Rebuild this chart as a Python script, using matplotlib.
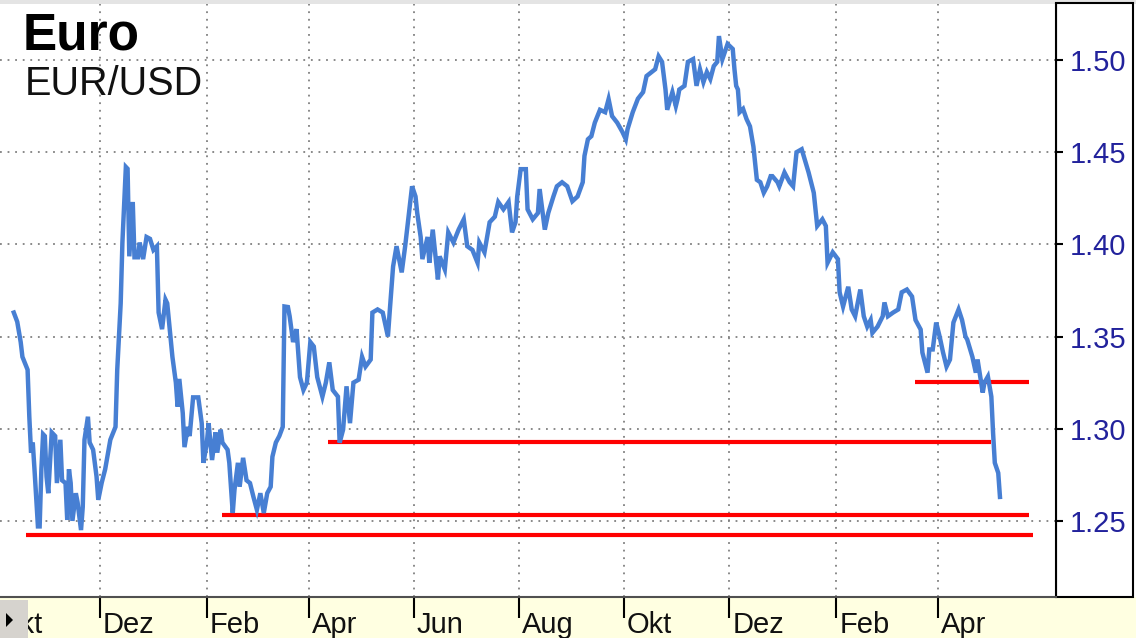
"""
EUR/USD chart with support lines (Oct 2008 - May 2010).
"""
import pandas as pd
import matplotlib
matplotlib.use('Agg')
import matplotlib.pyplot as plt
from matplotlib.patches import Rectangle, Polygon
from matplotlib.transforms import blended_transform_factory, ScaledTranslation

plt.rcParams['font.family'] = ['Liberation Sans', 'DejaVu Sans']

# Day offsets from 2008-10-01 and daily EUR/USD closes
START = pd.Timestamp('2008-10-01')
days = [
    11, 13, 15, 16, 19, 20, 21, 22, 23, 25, 26, 27, 28, 29, 30, 31, 33, 35, 36, 38,
    39, 41, 42, 43, 44, 45, 47, 48, 50, 51, 52, 54, 55, 57, 59, 60, 62, 64, 67, 70,
    71, 73, 74, 76, 77, 78, 80, 81, 83, 84, 86, 88, 90, 92, 94, 95, 97, 99, 100, 103,
    105, 106, 107, 109, 110, 112, 113, 115, 118, 120, 121, 123, 124, 126, 128, 129, 131, 132, 135, 136,
    138, 139, 141, 142, 144, 146, 148, 150, 152, 154, 156, 158, 160, 161, 163, 165, 167, 168, 170,
    171, 173, 175, 177, 179, 181, 183, 185, 187, 190, 192, 194, 196, 199, 200, 202, 204, 206, 208, 211,
    213, 215, 218, 219, 222, 225, 228, 229, 231, 233, 236, 238, 240, 242, 244, 245, 247, 248, 251, 252,
    254, 257, 258, 261, 263, 266, 269, 272, 274, 277, 280, 281, 284, 287, 290, 292, 295, 298, 300, 302,
    303, 305, 308, 309, 312, 315, 316, 319, 321, 324, 326, 329, 332, 335, 338, 341, 342, 344, 346, 348,
    351, 354, 356, 358, 361, 364, 366, 367, 370, 373,
    376, 378, 381, 383, 385, 387, 389, 390, 393, 395, 396, 397, 400, 402, 405, 407, 409, 411, 413, 415,
    417, 419, 420, 422, 425, 428, 429, 430, 431, 432, 434, 436, 438, 440, 442, 444, 446, 448, 450, 451,
    454, 455, 458, 461, 463, 465, 468,
    472, 475, 477, 480, 482, 483, 486, 489, 490, 492, 495, 497, 499, 502, 504, 506, 508, 509, 512, 515,
    516, 518, 521, 524, 526, 529, 532, 534, 537, 538, 541, 542, 544, 546, 548, 550, 552, 554, 556, 559,
    561, 563, 564, 567, 569, 570, 573, 574, 576, 578, 579, 580, 582, 583,
]
rate = [
    1.363, 1.358, 1.347, 1.339, 1.332, 1.3065, 1.287, 1.2925, 1.278, 1.247,
    1.247, 1.278, 1.297, 1.296, 1.274, 1.265, 1.298, 1.296, 1.2705, 1.294,
    1.272, 1.2705, 1.2505, 1.278, 1.2705, 1.250, 1.265, 1.260, 1.245, 1.2576,
    1.294, 1.3065, 1.2925, 1.2886, 1.274, 1.2614, 1.2707, 1.278, 1.294, 1.301,
    1.332, 1.368, 1.401, 1.442, 1.441, 1.3935, 1.423, 1.393, 1.393, 1.401,
    1.392, 1.404, 1.403, 1.397, 1.399, 1.363, 1.354, 1.370, 1.368, 1.339,
    1.325, 1.312, 1.327, 1.3085, 1.290, 1.301, 1.296, 1.317, 1.317, 1.303,
    1.2815, 1.2925, 1.303, 1.283, 1.298, 1.287, 1.2995, 1.2925, 1.2886, 1.2815,
    1.2543, 1.2668, 1.2815, 1.2685, 1.2842, 1.272, 1.2705, 1.263, 1.256, 1.265,
    1.2543, 1.265, 1.2685, 1.2848, 1.2925, 1.296, 1.301, 1.3663, 1.366,
    1.361, 1.347, 1.354, 1.328, 1.321, 1.325, 1.347, 1.3446, 1.328, 1.3174,
    1.325, 1.336, 1.321, 1.3174, 1.2924, 1.2995, 1.323, 1.303, 1.325, 1.3266,
    1.339, 1.3337, 1.3375, 1.363, 1.3647, 1.363, 1.350, 1.363, 1.388, 1.399,
    1.3848, 1.399, 1.415, 1.4315, 1.426, 1.417, 1.404, 1.392, 1.404, 1.390,
    1.408, 1.381, 1.3935, 1.3864, 1.4065, 1.401, 1.408, 1.4136, 1.399, 1.397,
    1.390, 1.401, 1.3957, 1.412, 1.415, 1.423, 1.419, 1.423, 1.4065, 1.412,
    1.426, 1.4408, 1.4408, 1.419, 1.4136, 1.417, 1.430, 1.408, 1.417, 1.426,
    1.4315, 1.4337, 1.4315, 1.4234, 1.426, 1.4337, 1.448, 1.457, 1.4587, 1.466,
    1.473, 1.4717, 1.4788, 1.4696, 1.466, 1.461, 1.457, 1.4625, 1.4717, 1.479,
    1.4826, 1.4913, 1.4935, 1.495, 1.502, 1.499, 1.484, 1.473, 1.4826, 1.475,
    1.4788, 1.484, 1.486, 1.499, 1.5005, 1.486, 1.495, 1.488, 1.4935, 1.4897,
    1.4967, 1.499, 1.513, 1.5005, 1.5087, 1.506, 1.495, 1.486, 1.484, 1.4717,
    1.4735, 1.468, 1.464, 1.453, 1.435, 1.4337, 1.428, 1.4315, 1.437, 1.437,
    1.4337, 1.4315, 1.439, 1.4337, 1.4315, 1.450, 1.4516,
    1.439, 1.428, 1.410, 1.4136, 1.410, 1.390, 1.3957, 1.392, 1.374, 1.3663,
    1.377, 1.3647, 1.361, 1.3755, 1.361, 1.3554, 1.359, 1.352, 1.3554, 1.361,
    1.3685, 1.361, 1.363, 1.3647, 1.374, 1.3755, 1.3717, 1.359, 1.3538, 1.3413,
    1.3304, 1.343, 1.343, 1.3576, 1.350, 1.3413, 1.3337, 1.3375, 1.3576, 1.3647,
    1.359, 1.350, 1.3484, 1.339, 1.3304, 1.3375, 1.3196, 1.325, 1.3283, 1.3174,
    1.2978, 1.2815, 1.276, 1.263,
]

# Red support lines: level, first day, last day
support_level = [1.2424, 1.2533, 1.2929, 1.3255]
support_from = [18, 132, 193, 534]
support_to = [602, 600, 578, 600]

month_ticks = ['2008-10-01', '2008-12-01', '2009-02-01', '2009-04-01', '2009-06-01',
               '2009-08-01', '2009-10-01', '2009-12-01', '2010-02-01', '2010-04-01']
month_labels = ['Okt', 'Dez', 'Feb', 'Apr', 'Jun', 'Aug', 'Okt', 'Dez', 'Feb', 'Apr']
y_ticks = [1.25, 1.30, 1.35, 1.40, 1.45, 1.50]

W, H = 1136, 638


def px_rect(x0, y0, x1, y1):
    """Figure-fraction rect from pixel box (top-left origin)."""
    return [x0 / W, 1 - y1 / H, (x1 - x0) / W, (y1 - y0) / H]


fig = plt.figure(figsize=(W / 100, H / 100), dpi=100)
fig.patch.set_facecolor('white')

# background chrome
fig.add_artist(Rectangle((0, 0), 1, 41 / H, transform=fig.transFigure,
                         facecolor='#ffffe1', edgecolor='none', zorder=-2))
fig.add_artist(Rectangle((0, 1 - 4 / H), 1, 4 / H, transform=fig.transFigure,
                         facecolor='#e4e4e4', edgecolor='none', zorder=-2))
r = px_rect(1056, 3, 1133, 597)
fig.add_artist(Rectangle((r[0], r[1]), r[2], r[3], transform=fig.transFigure,
                         facecolor='white', edgecolor='black', lw=1.5, zorder=-1))

ax = fig.add_axes(px_rect(0, 4, 1056, 597))

dates = START + pd.to_timedelta(days, unit='D')
ax.hlines(support_level,
          START + pd.to_timedelta(support_from, unit='D'),
          START + pd.to_timedelta(support_to, unit='D'),
          color='#ff0000', lw=3.0, zorder=3)
ax.plot(dates, rate, color='#477fd3', lw=3.2, solid_joinstyle='miter', zorder=4)

tick_dates = pd.to_datetime(month_ticks)
ax.set_xticks(tick_dates)
ax.set_yticks(y_ticks, [f'{v:.2f}' for v in y_ticks])
# limits after the ticks, since set_xticks widens the view
ax.set_xlim(START + pd.Timedelta(days=3), START + pd.Timedelta(days=615.5))
ax.set_ylim(1.2087, 1.5304)

ax.yaxis.tick_right()
ax.tick_params(axis='y', direction='out', length=5, width=1.5, pad=5,
               labelsize=21, labelcolor='#22229c', color='black')
ax.tick_params(axis='x', direction='out', length=15, width=1.5,
               labelbottom=False, color='black')

# month labels sit right of their tick, near the bottom edge
trans = blended_transform_factory(ax.transData, ax.transAxes) + \
    ScaledTranslation(0.03, -0.36, fig.dpi_scale_trans)
for d, lab in zip(tick_dates, month_labels):
    ax.text(d, 0, lab, transform=trans, ha='left', va='baseline', fontsize=21,
            color='#111111', clip_on=False)

ax.grid(True, color='#808080', linestyle=(0, (1, 3.2)), linewidth=1.3)
ax.set_axisbelow(True)

for side in ['left', 'top']:
    ax.spines[side].set_visible(False)
ax.spines['right'].set_color('black')
ax.spines['right'].set_linewidth(1.5)
ax.spines['bottom'].set_color('#505050')
ax.spines['bottom'].set_linewidth(1.5)

# little scroll button at bottom left
fig.add_artist(Rectangle((0, 0), 28 / W, 38 / H, transform=fig.transFigure,
                         facecolor='#d6d3ce', edgecolor='none', zorder=5))
tri = [(6 / W, 1 - 613 / H), (6 / W, 1 - 627 / H), (13 / W, 1 - 620 / H)]
fig.add_artist(Polygon(tri, closed=True, transform=fig.transFigure,
                       facecolor='black', edgecolor='none', zorder=6))

fig.text(23 / W, 1 - 50 / H, 'Euro', fontsize=37, fontweight='bold', va='baseline')
fig.text(25 / W, 1 - 95 / H, 'EUR/USD', fontsize=28.5, va='baseline', color='#111111')

fig.savefig('out.png', dpi=100)
plt.close(fig)
